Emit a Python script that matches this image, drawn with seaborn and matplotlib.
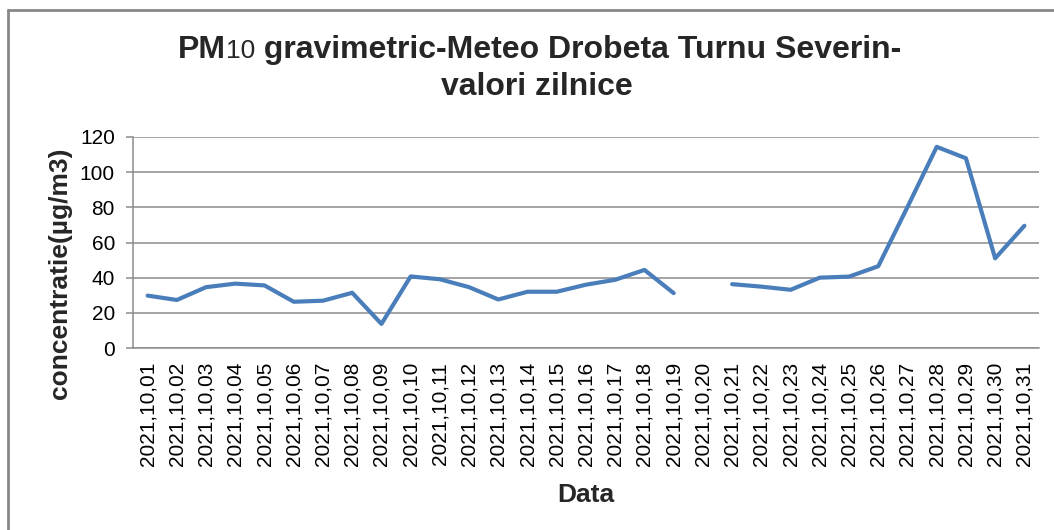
import numpy as np
import pandas as pd
import matplotlib.pyplot as plt
from matplotlib.lines import Line2D
import seaborn as sns

# Date PM10 - valori zilnice, octombrie 2021 (ziua 20 lipseste)
zile = ["2021,10,01", "2021,10,02", "2021,10,03", "2021,10,04", "2021,10,05",
        "2021,10,06", "2021,10,07", "2021,10,08", "2021,10,09", "2021,10,10",
        "2021,10,11", "2021,10,12", "2021,10,13", "2021,10,14", "2021,10,15",
        "2021,10,16", "2021,10,17", "2021,10,18", "2021,10,19", "2021,10,20",
        "2021,10,21", "2021,10,22", "2021,10,23", "2021,10,24", "2021,10,25",
        "2021,10,26", "2021,10,27", "2021,10,28", "2021,10,29", "2021,10,30",
        "2021,10,31"]
pm10 = [29.8, 27.3, 34.6, 36.6, 35.6, 26.3, 26.9, 31.4, 13.7, 40.7,
        39.1, 34.6, 27.6, 32.0, 32.0, 36.0, 38.8, 44.4, 31.2, np.nan,
        36.3, 34.9, 33.1, 40.0, 40.6, 46.5, 80.2, 114.4, 107.9, 51.0,
        69.5]
y_ticks = [0, 20, 40, 60, 80, 100, 120]

sns.set_theme(style="white")
plt.rcParams['font.family'] = ['Liberation Sans', 'DejaVu Sans']

df = pd.DataFrame({'zi': zile, 'pm10': pm10})
df['poz'] = np.arange(len(df))
# segmente separate ca linia sa se rupa la valoarea lipsa
df['seg'] = df['pm10'].isna().cumsum()
df_ok = df.dropna(subset=['pm10'])

W, H = 1054, 530
fig = plt.figure(figsize=(W / 100, H / 100), dpi=100)
ax = fig.add_axes([133 / W, 1 - 348 / H, 906 / W, 211 / H])

sns.lineplot(data=df_ok, x='poz', y='pm10', units='seg', estimator=None,
             color='#4A7EBB', lw=3.0, ax=ax, legend=False)

ax.set_xlim(-0.5, len(zile) - 0.5)
ax.set_ylim(0, 120)
ax.set_yticks(y_ticks)
ax.set_xticks(df['poz'])
ax.set_xticklabels(zile, rotation=90, va='top')
ax.yaxis.grid(True, color='#8C8C8C', lw=1.1)
ax.xaxis.grid(False)
for s in ['top', 'right']:
    ax.spines[s].set_visible(False)
for s in ['left', 'bottom']:
    ax.spines[s].set_color('#8C8C8C')
    ax.spines[s].set_linewidth(1.1)
ax.tick_params(axis='y', left=True, length=5, width=1.1, color='#8C8C8C',
               pad=8, labelsize=15, labelcolor='black')
ax.tick_params(axis='x', bottom=False, length=0, pad=10, labelsize=15,
               labelcolor='black')

ax.set_xlabel("Data", fontsize=19, fontweight='bold')
ax.set_ylabel("concentratie(µg/m3)", fontsize=19, fontweight='bold')
ax.xaxis.set_label_coords(0.5, -0.64)
ax.yaxis.set_label_coords(-0.067, 0.355)

# Titlu: "PM" + "10" mai mic, apoi restul textului
y1 = 1 - 58 / H
t_a = fig.text(178 / W, y1, "PM", fontsize=23, fontweight='bold', va='baseline')
t_b = fig.text(0, y1, "10", fontsize=19, va='baseline')
t_c = fig.text(0, y1, " gravimetric-Meteo Drobeta Turnu Severin-",
               fontsize=23, fontweight='bold', va='baseline')
fig.canvas.draw()
r = fig.canvas.get_renderer()
xa = t_a.get_window_extent(r).x1
t_b.set_x(xa / W)
xb = t_b.get_window_extent(r).x1
t_c.set_x(xb / W)
fig.text(537 / W, 1 - 95 / H, "valori zilnice", fontsize=23, fontweight='bold',
         ha='center', va='baseline')

# chenarul graficului (doar stanga si sus sunt vizibile)
fig.add_artist(Line2D([8 / W, 8 / W], [0, 1 - 10 / H], transform=fig.transFigure,
                      color='#888888', lw=2))
fig.add_artist(Line2D([8 / W, 1], [1 - 10 / H, 1 - 10 / H], transform=fig.transFigure,
                      color='#888888', lw=2))

plt.savefig("out.png", dpi=100)
print("OK: out.png")
